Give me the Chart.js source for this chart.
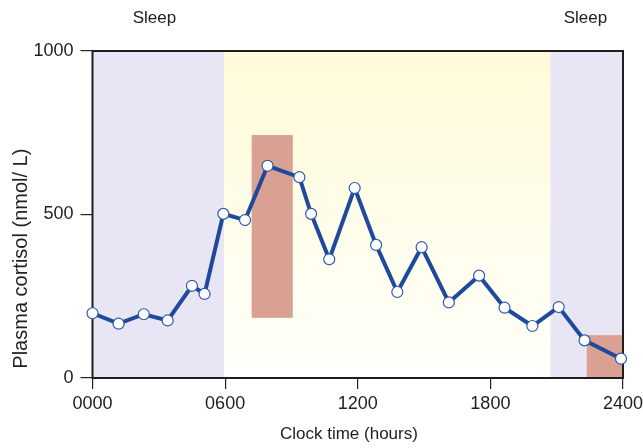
<!DOCTYPE html>
<html>
<head>
<meta charset="utf-8">
<script src="https://cdn.jsdelivr.net/npm/chart.js@4.4.1/dist/chart.umd.min.js"></script>
<style>
  html, body { margin: 0; padding: 0; background: #fff; }
  #wrap { width: 643px; height: 448px; position: relative; }
</style>
</head>
<body>
<div id="wrap"><canvas id="cortisolChart"></canvas></div>
<script>
// clock time (hours) and plasma cortisol (nmol/L)
const hours = [0, 1.18, 2.32, 3.4, 4.5, 5.07, 5.92, 6.9, 7.92, 9.36, 9.89, 10.71, 11.86, 12.83, 13.79, 14.89, 16.12, 17.49, 18.64, 19.9, 21.09, 22.26, 23.91];
const cortisol = [198, 166, 195, 176, 282, 257, 502, 483, 649, 614, 502, 363, 581, 407, 263, 400, 231, 313, 215, 159, 217, 115, 59];

const xTicks = [0, 6, 12, 18, 24];
const xTickLabels = ['0000', '0600', '1200', '1800', '2400'];
const yTicks = [0, 500, 1000];

// shaded periods (hours)
const sleepBands = [[0, 5.95], [20.72, 24]];
const awakeBand = [5.95, 20.72];
const sleepLabels = ['Sleep', 'Sleep'];
// meal bars: [fromHour, toHour, low, high]
const mealBars = [[7.2, 9.06, 184, 743], [22.36, 24, 0, 131]];

const FONT = '"Liberation Sans", Arial, sans-serif';

const backdrop = {
    id: 'backdrop',
    beforeDatasetsDraw(chart) {
        const { ctx, chartArea: a, scales: { x, y } } = chart;
        ctx.save();
        // awake period - yellow fading to white
        const g = ctx.createLinearGradient(0, a.top, 0, a.bottom);
        g.addColorStop(0, '#fffad8');
        g.addColorStop(1, '#fffffb');
        ctx.fillStyle = g;
        const ax0 = x.getPixelForValue(awakeBand[0]), ax1 = x.getPixelForValue(awakeBand[1]);
        ctx.fillRect(ax0, a.top, ax1 - ax0, a.bottom - a.top);
        // sleep periods
        ctx.fillStyle = '#e8e6f4';
        sleepBands.forEach(b => {
            const x0 = x.getPixelForValue(b[0]), x1 = x.getPixelForValue(b[1]);
            ctx.fillRect(x0, a.top, x1 - x0, a.bottom - a.top);
        });
        // meals
        ctx.fillStyle = '#d9a194';
        mealBars.forEach(m => {
            const x0 = x.getPixelForValue(m[0]), x1 = x.getPixelForValue(m[1]);
            const y0 = y.getPixelForValue(m[3]), y1 = y.getPixelForValue(m[2]);
            ctx.fillRect(x0, y0, x1 - x0, y1 - y0);
        });
        // frame
        ctx.strokeStyle = '#1e1e1e';
        ctx.lineWidth = 2;
        ctx.strokeRect(a.left, a.top, a.right - a.left, a.bottom - a.top);

        // texts
        ctx.fillStyle = '#222';
        ctx.font = '17px ' + FONT;
        ctx.textAlign = 'center';
        ctx.textBaseline = 'middle';
        sleepBands.forEach((b, i) => {
            const cx = i === 0 ? x.getPixelForValue(2.8) : x.getPixelForValue(22.3);
            ctx.fillText(sleepLabels[i], cx, 18);
        });
        ctx.fillText('Clock time (hours)', x.getPixelForValue(11.6), 434);
        ctx.font = '20px ' + FONT;
        ctx.translate(21, y.getPixelForValue(365));
        ctx.rotate(-Math.PI / 2);
        ctx.fillText('Plasma cortisol (nmol/ L)', 0, 0);
        ctx.restore();
    }
};

new Chart(document.getElementById('cortisolChart'), {
    type: 'line',
    data: {
        datasets: [{
            data: hours.map((h, i) => ({ x: h, y: cortisol[i] })),
            borderColor: '#1f4a9b',
            borderWidth: 4,
            pointRadius: 5.5,
            pointBorderWidth: 1.2,
            pointBorderColor: '#3059aa',
            pointBackgroundColor: '#ffffff',
            tension: 0,
            clip: false
        }]
    },
    options: {
        responsive: true,
        maintainAspectRatio: false,
        animation: false,
        layout: { padding: { top: 51, right: 20, left: 0, bottom: 0 } },
        plugins: { legend: { display: false }, tooltip: { enabled: false } },
        scales: {
            x: {
                type: 'linear',
                min: 0,
                max: 24,
                afterFit(s) { s.height = 70; s.paddingLeft = 0; s.paddingRight = 0; },
                afterBuildTicks(s) { s.ticks = xTicks.map(v => ({ value: v })); },
                ticks: {
                    autoSkip: false,
                    maxRotation: 0,
                    padding: 4,
                    color: '#222',
                    font: { family: FONT, size: 18 },
                    callback: (v) => xTickLabels[xTicks.indexOf(v)]
                },
                grid: { drawOnChartArea: false, tickLength: 11, color: '#222', lineWidth: 1.2 },
                border: { color: '#1e1e1e', width: 2 }
            },
            y: {
                min: 0,
                max: 1000,
                afterFit(s) { s.width = 92.5; s.paddingTop = 0; s.paddingBottom = 0; },
                afterBuildTicks(s) { s.ticks = yTicks.map(v => ({ value: v })); },
                ticks: {
                    padding: 7,
                    color: '#222',
                    font: { family: FONT, size: 18 },
                    callback: (v) => String(v)
                },
                grid: { drawOnChartArea: false, tickLength: 12, color: '#222', lineWidth: 1.2 },
                border: { color: '#1e1e1e', width: 2 }
            }
        }
    },
    plugins: [backdrop]
});
</script>
</body>
</html>
